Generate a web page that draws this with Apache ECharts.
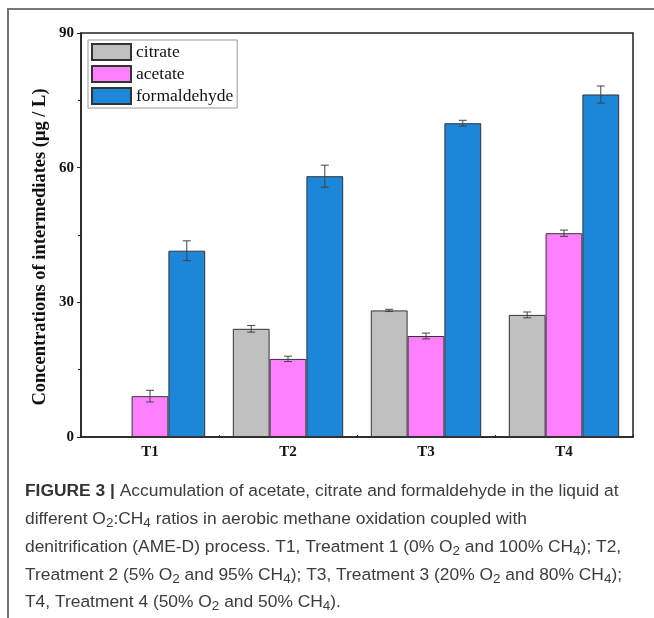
<!DOCTYPE html>
<html>
<head>
<meta charset="utf-8">
<script src="https://cdn.jsdelivr.net/npm/echarts@6/dist/echarts.min.js"></script>
<style>
  html, body { margin: 0; padding: 0; background: #fff; }
  #chart { width: 654px; height: 618px; }
</style>
</head>
<body>
<div id="chart"></div>
<script>
// Treatments on the x axis
const categories = ['T1', 'T2', 'T3', 'T4'];
// Mean concentrations (μg / L)
const citrate = [0, 24.1, 28.2, 27.2];
const acetate = [9.1, 17.4, 22.5, 45.4];
const formaldehyde = [41.5, 58.1, 69.9, 76.3];
// Standard deviations
const citrateErr = [0, 0.75, 0.25, 0.65];
const acetateErr = [1.3, 0.6, 0.65, 0.7];
const formaldehydeErr = [2.2, 2.45, 0.65, 1.9];
// Y axis ticks
const yTicks = [0, 30, 60, 90];
const yTitle = 'Concentrations of intermediates (μg / L)';

const seriesNames = ['citrate', 'acetate', 'formaldehyde'];
const seriesValues = [citrate, acetate, formaldehyde];
const seriesErrors = [citrateErr, acetateErr, formaldehydeErr];
const seriesColors = ['#c0c0c0', '#ff80ff', '#1c86d8'];

const serif = '"Liberation Serif", "Times New Roman", serif';
const sans = '"Liberation Sans", Arial, sans-serif';
const CATEGORY_GAP = 0.2;

function errorBarRenderer(idx) {
  return function (params, api) {
    const cat = api.value(0);
    const val = api.value(1);
    const err = api.value(2);
    if (!err) return null;
    const band = api.size([1, 0])[0];
    const barW = band * (1 - CATEGORY_GAP) / 3;
    const center = api.coord([cat, val]);
    const x = center[0] + (idx - 1) * barW;
    const yHi = api.coord([cat, val + err])[1];
    const yLo = api.coord([cat, val - err])[1];
    const cap = 4;
    const style = { stroke: '#444', lineWidth: 1 };
    return {
      type: 'group',
      children: [
        { type: 'line', shape: { x1: x, y1: yHi, x2: x, y2: yLo }, style },
        { type: 'line', shape: { x1: x - cap, y1: yHi, x2: x + cap, y2: yHi }, style },
        { type: 'line', shape: { x1: x - cap, y1: yLo, x2: x + cap, y2: yLo }, style }
      ]
    };
  };
}

const series = [];
seriesNames.forEach(function (name, i) {
  series.push({
    name: name,
    type: 'bar',
    data: seriesValues[i],
    barGap: '0%',
    barCategoryGap: (CATEGORY_GAP * 100) + '%',
    itemStyle: { color: seriesColors[i], borderColor: '#333', borderWidth: 1 },
    emphasis: { disabled: true }
  });
});
seriesNames.forEach(function (name, i) {
  series.push({
    type: 'custom',
    renderItem: errorBarRenderer(i),
    data: seriesValues[i].map(function (v, k) { return [k, v, seriesErrors[i][k]]; }),
    z: 5,
    silent: true
  });
});

// Figure caption, one entry per line; {s|..} marks subscripts
const captionLines = [
  '{b|FIGURE 3 |} Accumulation of acetate, citrate and formaldehyde in the liquid at',
  'different O{s|2}:CH{s|4} ratios in aerobic methane oxidation coupled with',
  'denitrification (AME-D) process. T1, Treatment 1 (0% O{s|2} and 100% CH{s|4}); T2,',
  'Treatment 2 (5% O{s|2} and 95% CH{s|4}); T3, Treatment 3 (20% O{s|2} and 80% CH{s|4});',
  'T4, Treatment 4 (50% O{s|2} and 50% CH{s|4}).'
];

const graphics = [
  {
    type: 'polyline',
    shape: { points: [[8, 618], [8, 9], [654, 9]] },
    style: { stroke: '#777', lineWidth: 2, fill: null },
    silent: true
  },
  {
    type: 'text',
    x: 40,
    y: 247,
    rotation: Math.PI / 2,
    style: {
      text: yTitle,
      fontFamily: serif,
      fontWeight: 'bold',
      fontSize: 18.5,
      fill: '#111',
      align: 'center',
      verticalAlign: 'middle'
    },
    silent: true
  }
];
captionLines.forEach(function (line, i) {
  graphics.push({
    type: 'text',
    x: 25,
    y: 480.7 + i * 27.7,
    style: {
      text: line,
      fontFamily: sans,
      fontSize: 17.4,
      fill: '#3c3c3c',
      lineHeight: 22,
      rich: {
        b: { fontWeight: 'bold', fontSize: 17.4, fill: '#333', fontFamily: sans, lineHeight: 22 },
        s: { fontSize: 13.5, fill: '#3c3c3c', fontFamily: sans, verticalAlign: 'bottom', lineHeight: 14 }
      }
    },
    silent: true
  });
});

const chart = echarts.init(document.getElementById('chart'), null, { renderer: 'canvas' });
chart.setOption({
  animation: false,
  backgroundColor: '#fff',
  grid: {
    left: 81, right: 21, top: 33, bottom: 181,
    show: true, borderColor: '#222', borderWidth: 1.5, backgroundColor: 'transparent'
  },
  legend: {
    data: seriesNames,
    orient: 'vertical',
    left: 88, top: 40,
    padding: [3, 4, 3, 3],
    icon: 'rect',
    itemWidth: 39, itemHeight: 16, itemGap: 4,
    borderColor: '#999', borderWidth: 1, borderRadius: 0,
    textStyle: { fontFamily: serif, fontSize: 17.5, lineHeight: 16, color: '#111' },
    selectedMode: false
  },
  xAxis: [
    {
      type: 'category',
      data: categories,
      axisLine: { lineStyle: { color: '#222', width: 1.5 } },
      axisTick: { show: true, alignWithLabel: true, inside: true, length: 5, lineStyle: { color: '#222' } },
      axisLabel: { fontFamily: serif, fontWeight: 'bold', fontSize: 15, color: '#111', margin: 8 }
    },
    {
      type: 'category',
      data: categories,
      position: 'bottom',
      axisLine: { show: false },
      axisTick: { show: true, inside: true, length: 2, lineStyle: { color: '#222' } },
      axisLabel: { show: false }
    }
  ],
  yAxis: {
    type: 'value',
    min: yTicks[0], max: yTicks[yTicks.length - 1], interval: yTicks[1] - yTicks[0],
    axisLine: { show: true, lineStyle: { color: '#222', width: 1.5 } },
    axisTick: { show: true, inside: false, length: 4, lineStyle: { color: '#222' } },
    minorTick: { show: true, splitNumber: 2, length: 3, lineStyle: { color: '#222' } },
    splitLine: { show: false },
    axisLabel: { fontFamily: serif, fontWeight: 'bold', fontSize: 15, color: '#111', margin: 7 }
  },
  series: series,
  graphic: graphics
});
</script>
</body>
</html>
